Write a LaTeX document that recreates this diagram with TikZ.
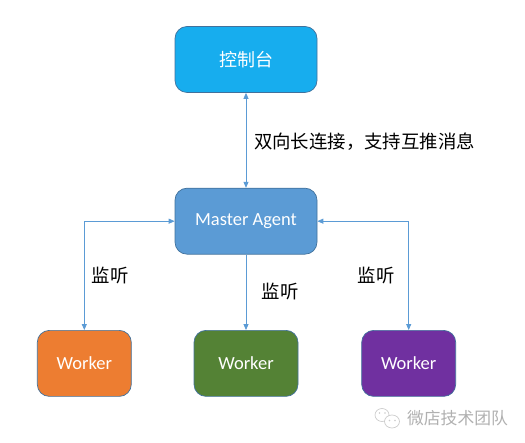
\documentclass[tikz,border=0pt]{standalone}
\usepackage{fontspec}
\setmainfont{Carlito}
\newfontfamily\cjk{Noto Sans CJK SC}
\usetikzlibrary{arrows.meta, positioning}
\definecolor{linkblue}{HTML}{5B9BD5}
\definecolor{edgeblue}{HTML}{41719C}
\definecolor{consolecol}{HTML}{17ADEE}
\definecolor{mastercol}{HTML}{5B9BD5}
\definecolor{orangecol}{HTML}{ED7D31}
\definecolor{greencol}{HTML}{548235}
\definecolor{purplecol}{HTML}{7030A0}
\definecolor{markgrey}{HTML}{B0B0B0}
\definecolor{bubblegrey}{HTML}{CCCCCC}

\begin{document}
\begin{tikzpicture}[
    x=1pt, y=1pt,
    bigbox/.style={rectangle, rounded corners=12pt, draw=edgeblue, line width=0.7pt, text=white, minimum width=142pt, minimum height=66pt, font=\fontsize{18.5}{20}\selectfont},
    workerbox/.style={bigbox, minimum width=94pt},
    arrow/.style={-{Triangle[length=6pt, width=5pt]}, draw=linkblue, line width=0.8pt},
    biarrow/.style={arrow, {Triangle[length=6pt, width=5pt]}-{Triangle[length=6pt, width=5pt]}},
    label/.style={font=\fontsize{18.4}{20}\selectfont\cjk, inner sep=0pt}
  ]
    \useasboundingbox (0,0) rectangle (525,443);
    \node[bigbox, fill=consolecol, font=\fontsize{18}{20}\selectfont\cjk] (console) at (246,383.5) {控制台};
    \node[bigbox, fill=mastercol, below=95pt of console] (master) {Master Agent};
    \node[workerbox, fill=greencol, minimum width=104pt, below=75.5pt of master] (worker2) {Worker};
    \node[workerbox, fill=orangecol, left=62pt of worker2] (worker1) {Worker};
    \node[workerbox, fill=purplecol, right=63pt of worker2] (worker3) {Worker};
    \draw[biarrow] (console) -- (master);
    \draw[biarrow] (master.west) -| (worker1.north);
    \draw[arrow] (master) -- (worker2);
    \draw[biarrow] (master.east) -| (worker3.north);
    \node[label] (linktext) at (364.5,301) {双向长连接，支持互推消息};
    \node[label] (listen1) at (110,167) {监听};
    \node[label] (listen2) at (280,151) {监听};
    \node[label] (listen3) at (376,167) {监听};
    \node[font=\fontsize{16.8}{18}\selectfont\cjk, text=markgrey, inner sep=0pt] (mark) at (457.5,25) {微店技术团队};
    % watermark bubbles
    \begin{scope}[bubblegrey, line width=0.7pt]
      \draw (382,28) ellipse (7pt and 6.5pt);
      \fill[white] (392,21.5) ellipse (7.5pt and 6.5pt);
      \draw (392,21.5) ellipse (7.5pt and 6.5pt);
      \fill (379.5,30) circle (0.8pt) (385,30) circle (0.8pt) (389.5,22.5) circle (0.8pt) (395,22.5) circle (0.8pt);
    \end{scope}
  \end{tikzpicture}
\end{document}
